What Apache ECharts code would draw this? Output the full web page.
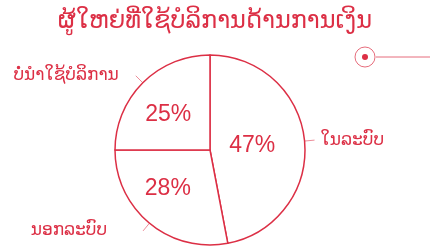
<!DOCTYPE html>
<html lang="lo">
<head>
    <meta charset="UTF-8">
    <title>ຜູ້ໃຫຍ່ທີ່ໃຊ້ບໍລິການດ້ານການເງິນ</title>
    <script src="https://cdn.jsdelivr.net/npm/echarts@6/dist/echarts.min.js"></script>
    <style>
        html, body { margin: 0; padding: 0; background: #fff; }
        #main { width: 430px; height: 246px; }
    </style>
</head>
<body>
<div id="main"></div>
<script>
// ຂໍ້ມູນ
var titleText = 'ຜູ້ໃຫຍ່ທີ່ໃຊ້ບໍລິການດ້ານການເງິນ';
var categories = ['ໃນລະບົບ', 'ນອກລະບົບ', 'ບໍ່ນຳໃຊ້ບໍລິການ'];
var values = [47, 28, 25];

var red = '#dc2f45';
var laoFont = "'DejaVu Sans', 'Noto Sans', sans-serif";

// ປັບຕຳແໜ່ງຂໍ້ຄວາມເລັກນ້ອຍ (padding ເພື່ອເລື່ອນ)
var innerPad = [[8, 16, 0, 0], [2, 20, 0, 0], [6, 12, 0, 0]];
var outerPad = [[2, 0, 0, 0], [12, 0, 0, 0], [0, 0, 0, 0]];
var outerGap = [6, 36, 17];

var innerData = categories.map(function (name, i) {
    return { name: name, value: values[i], label: { padding: innerPad[i] } };
});
var outerData = categories.map(function (name, i) {
    return {
        name: name,
        value: values[i],
        label: { padding: outerPad[i], distanceToLabelLine: outerGap[i] }
    };
});

var myChart = echarts.init(document.getElementById('main'));

myChart.setOption({
    animation: false,
    backgroundColor: '#fff',
    title: {
        text: titleText,
        left: 'center',
        top: 5,
        textStyle: {
            color: red,
            fontFamily: laoFont,
            fontWeight: 'normal',
            fontSize: 24
        }
    },
    graphic: [
        {
            type: 'circle',
            shape: { cx: 365, cy: 57, r: 10 },
            style: { fill: 'none', stroke: red, lineWidth: 1, opacity: 0.7 }
        },
        {
            type: 'circle',
            shape: { cx: 365, cy: 57, r: 3 },
            style: { fill: red }
        },
        {
            type: 'line',
            shape: { x1: 376, y1: 57, x2: 430, y2: 57 },
            style: { stroke: red, lineWidth: 1, opacity: 0.7 }
        }
    ],
    series: [
        {
            // ເປີເຊັນຢູ່ພາຍໃນ
            type: 'pie',
            center: [210, 150],
            radius: 95,
            startAngle: 90,
            silent: true,
            itemStyle: { color: '#fff', borderColor: red, borderWidth: 1.5 },
            label: {
                position: 'inside',
                formatter: '{c}%',
                color: red,
                fontFamily: "'Liberation Sans', Arial, sans-serif",
                fontSize: 23
            },
            labelLine: { show: false },
            data: innerData
        },
        {
            // ຊື່ປະເພດຢູ່ພາຍນອກ
            type: 'pie',
            center: [210, 150],
            radius: 95,
            startAngle: 90,
            silent: true,
            itemStyle: { color: 'rgba(0,0,0,0)', borderWidth: 0 },
            label: {
                position: 'outside',
                formatter: '{b}',
                color: red,
                fontFamily: laoFont,
                fontSize: 17
            },
            labelLine: {
                show: true,
                length: 10,
                length2: 0,
                lineStyle: { color: red, width: 1, opacity: 0.55 }
            },
            data: outerData
        }
    ]
});
</script>
</body>
</html>
